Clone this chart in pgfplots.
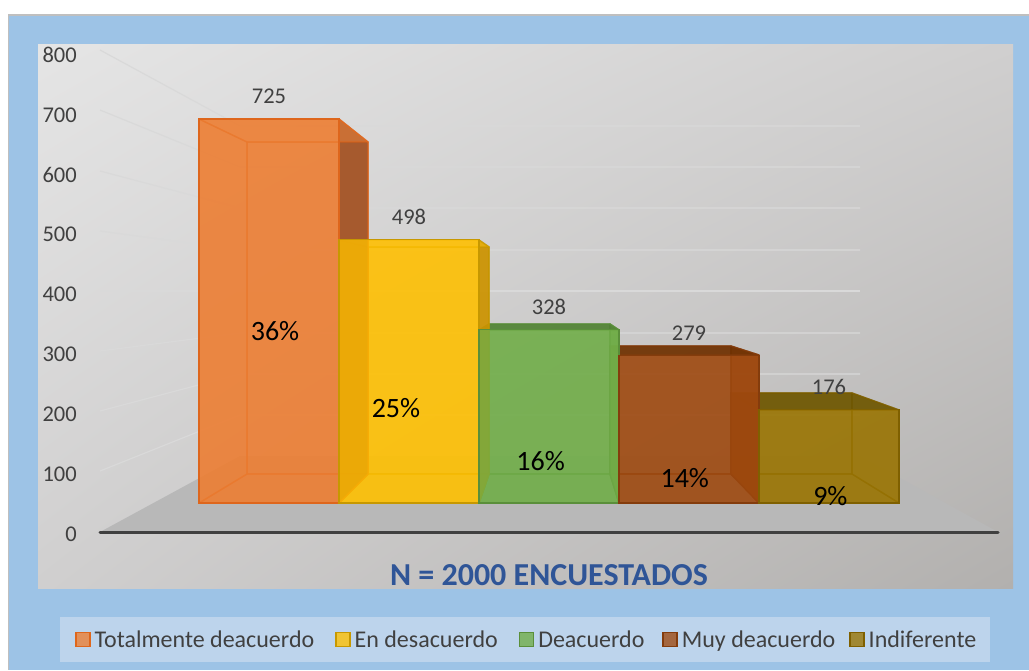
\documentclass[border=0pt]{standalone}
\usepackage{fontspec}
\setmainfont{Carlito}
\usepackage{pgfplots}
\pgfplotsset{compat=1.18}
\usetikzlibrary{shadings}
\definecolor{lab}{HTML}{404040}
\definecolor{gridc}{HTML}{D9D9D9}
\definecolor{frameb}{HTML}{9DC3E6}
\definecolor{legb}{HTML}{BDD4EC}
\definecolor{floorc}{HTML}{B8B8B8}
\definecolor{titlec}{HTML}{2F5597}
\definecolor{wallA}{HTML}{E5E5E5}\definecolor{wallB}{HTML}{D0CFCF}\definecolor{wallC}{HTML}{B2B0AE}
\definecolor{orangeB}{HTML}{ED7D31}\definecolor{orangeE}{HTML}{DE661C}\definecolor{orangeS}{HTML}{9C4D20}
\definecolor{yellowB}{HTML}{FFC000}\definecolor{yellowE}{HTML}{C79800}\definecolor{yellowS}{HTML}{C88F00}
\definecolor{greenB}{HTML}{70AD47}\definecolor{greenE}{HTML}{5A8F3A}\definecolor{greenS}{HTML}{4F7F33}
\definecolor{brownB}{HTML}{9E480E}\definecolor{brownE}{HTML}{843C0C}\definecolor{brownS}{HTML}{6B2F00}
\definecolor{oliveB}{HTML}{997300}\definecolor{oliveE}{HTML}{7F6000}\definecolor{oliveS}{HTML}{6B5400}
\tikzset{
  face/.style n args={2}{fill=#1, draw=#2, fill opacity=0.5, draw opacity=0.6, line width=1.4pt, line join=round, mark=none},
  dark/.style n args={2}{fill=#1, draw=#2, fill opacity=0.85, draw opacity=0.8, line width=1.4pt, line join=round, mark=none},
  grd/.style={color=gridc, line width=1.2pt, mark=none},
}
\begin{document}
\begin{tikzpicture}
% layer 1: frame, wall, floor, gridlines, box faces behind the fronts (pixel coords)
\begin{axis}[
    at={(0,0)}, anchor=south west,
    width=1029pt, height=670pt, scale only axis,
    xmin=0, xmax=1029, ymin=0, ymax=670, y dir=reverse,
    hide axis, clip=false,
]
\addplot[fill=white, draw=none, mark=none] coordinates {(0,0) (1029,0) (1029,670) (0,670)} -- cycle;
\addplot[fill=black!25, draw=none, mark=none] coordinates {(8,14) (1029,14) (1029,670) (8,670)} -- cycle;
\addplot[fill=frameb, draw=none, mark=none] coordinates {(9,15.5) (1029,15.5) (1029,670) (9,670)} -- cycle;
\path[upper left=wallA, upper right=wallB, lower left=wallB, lower right=wallC]
      (axis cs:38,44) rectangle (axis cs:1013,588);
% floor
\addplot[fill=floorc, draw=none, mark=none] coordinates {(100,532) (240,456) (860,456) (998,532)} -- cycle;
% left wall and back wall gridlines
\addplot[grd] coordinates {(100,50) (240,126) (860,126)};
\addplot[grd] coordinates {(100,110) (240,167) (860,167)};
\addplot[grd] coordinates {(100,171) (240,208) (860,208)};
\addplot[grd] coordinates {(100,231) (240,250) (860,250)};
\addplot[grd] coordinates {(100,291) (240,291) (860,291)};
\addplot[grd] coordinates {(100,351) (240,333) (860,333)};
\addplot[grd] coordinates {(100,411) (240,374) (860,374)};
\addplot[grd] coordinates {(100,471) (240,415) (860,415)};
\addplot[color=lab, line width=3pt, line cap=round, mark=none] coordinates {(100,532) (998,532)};
% Indiferente
\addplot[face={oliveB}{oliveE}] coordinates {(731,393) (852,393) (852,474) (731,474)} -- cycle;
\addplot[face={oliveB}{oliveE}] coordinates {(759,503) (899,503) (852,474) (731,474)} -- cycle;
\addplot[dark={oliveS}{oliveE}] coordinates {(759,410) (731,393) (731,474) (759,503)} -- cycle;
\addplot[face={oliveB}{oliveE}] coordinates {(899,410) (852,393) (852,474) (899,503)} -- cycle;
\addplot[dark={oliveS}{oliveE}] coordinates {(759,410) (899,410) (852,393) (731,393)} -- cycle;
% Muy deacuerdo
\addplot[face={brownB}{brownE}] coordinates {(610,346) (731,346) (731,474) (610,474)} -- cycle;
\addplot[face={brownB}{brownE}] coordinates {(619,503) (759,503) (731,474) (610,474)} -- cycle;
\addplot[face={brownB}{brownE}] coordinates {(619,355) (610,346) (610,474) (619,503)} -- cycle;
\addplot[dark={brownB}{brownE}] coordinates {(759,355) (731,346) (731,474) (759,503)} -- cycle;
\addplot[dark={brownS}{brownE}] coordinates {(619,355) (759,355) (731,346) (610,346)} -- cycle;
% Deacuerdo
\addplot[face={greenB}{greenE}] coordinates {(489,324) (610,324) (610,474) (489,474)} -- cycle;
\addplot[face={greenB}{greenE}] coordinates {(479,503) (619,503) (610,474) (489,474)} -- cycle;
\addplot[face={greenB}{greenE}] coordinates {(479,330) (489,324) (489,474) (479,503)} -- cycle;
\addplot[dark={greenB}{greenE}] coordinates {(619,330) (610,324) (610,474) (619,503)} -- cycle;
\addplot[dark={greenS}{greenE}] coordinates {(479,330) (619,330) (610,324) (489,324)} -- cycle;
% En desacuerdo
\addplot[face={yellowB}{yellowE}] coordinates {(368,247) (489,247) (489,474) (368,474)} -- cycle;
\addplot[face={yellowB}{yellowE}] coordinates {(339,503) (479,503) (489,474) (368,474)} -- cycle;
\addplot[dark={yellowB}{yellowE}] coordinates {(339,240) (368,247) (368,474) (339,503)} -- cycle;
\addplot[dark={yellowS}{yellowE}] coordinates {(479,240) (489,247) (489,474) (479,503)} -- cycle;
\addplot[face={yellowB}{yellowE}] coordinates {(339,240) (479,240) (489,247) (368,247)} -- cycle;
% Totalmente deacuerdo
\addplot[face={orangeB}{orangeE}] coordinates {(247,142) (368,142) (368,474) (247,474)} -- cycle;
\addplot[face={orangeB}{orangeE}] coordinates {(199,503) (339,503) (368,474) (247,474)} -- cycle;
\addplot[face={orangeB}{orangeE}] coordinates {(199,119) (247,142) (247,474) (199,503)} -- cycle;
\addplot[dark={orangeS}{orangeE}] coordinates {(339,119) (368,142) (368,474) (339,503)} -- cycle;
\addplot[face={orangeB}{orangeE}] coordinates {(199,119) (339,119) (368,142) (247,142)} -- cycle;
% legend panel and caption
\addplot[fill=legb, draw=none, mark=none] coordinates {(60,617) (990,617) (990,662) (60,662)} -- cycle;
\node[font=\fontsize{32}{36}\selectfont\bfseries, text=titlec, anchor=base] at (axis cs:549,585) {N = 2000 ENCUESTADOS};
\end{axis}
% layer 2: value axis
\begin{axis}[
    at={(83pt,0)}, anchor=south west,
    width=946pt, height=670pt, scale only axis,
    xmin=0, xmax=1, ymin=-228.8, ymax=890.2,
    axis x line=none, axis y line=left,
    y axis line style={draw=none},
    ytick={0,100,...,800}, major tick length=0pt,
    yticklabel style={font=\fontsize{22.5}{26}\selectfont, color=lab, anchor=east, inner sep=0pt, xshift=-6pt, yshift=-1pt},
    /pgf/number format/assume math mode=true,
]
\addplot[draw=none, mark=none] coordinates {(0,0) (1,800)};
\end{axis}
% layer 3: front faces of the bars, value scale
\begin{axis}[
    at={(0,0)}, anchor=south west,
    width=1029pt, height=670pt, scale only axis,
    xmin=-1.9214, xmax=5.4286, ymin=-315.3, ymax=949.6,
    hide axis, clip=false,
    /pgf/number format/assume math mode=true,
    ybar, bar shift=0pt, bar width=1,
    nodes near coords,
    every node near coord/.append style={font=\fontsize{22.5}{26}\selectfont, color=lab, text opacity=1, fill opacity=1, yshift=11pt},
    legend columns=5,
    legend style={
        at={(rel axis cs:0.0583,0.0194)}, anchor=south west,
        fill=none, draw=none, inner xsep=15pt, inner ysep=6pt,
        font=\fontsize{24}{28}\selectfont, text=lab,
        /tikz/column 1/.style={column sep=2pt},
        /tikz/column 3/.style={column sep=2pt},
        /tikz/column 5/.style={column sep=2pt},
        /tikz/column 7/.style={column sep=2pt},
        /tikz/column 9/.style={column sep=2pt},
        /tikz/column 2/.style={column sep=19pt},
        /tikz/column 4/.style={column sep=19pt},
        /tikz/column 6/.style={column sep=16pt},
        /tikz/column 8/.style={column sep=12pt},
    },
    legend image code/.code={\draw[#1, line width=1.4pt] (0pt,-7pt) rectangle (14pt,7pt);},
]
\addplot[fill=orangeB, draw=orangeE, fill opacity=0.78, line width=1.4pt] coordinates {(0,725)};
\addlegendentry{Totalmente deacuerdo}
\addplot[fill=yellowB, draw=yellowE, fill opacity=0.78, line width=1.4pt] coordinates {(1,498)};
\addlegendentry{En desacuerdo}
\addplot[fill=greenB, draw=greenE, fill opacity=0.78, line width=1.4pt] coordinates {(2,328)};
\addlegendentry{Deacuerdo}
\addplot[fill=brownB, draw=brownE, fill opacity=0.78, line width=1.4pt] coordinates {(3,279)};
\addlegendentry{Muy deacuerdo}
\addplot[fill=oliveB, draw=oliveE, fill opacity=0.78, line width=1.4pt] coordinates {(4,176)};
\addlegendentry{Indiferente}
% percentage labels inside the bars
\node[font=\fontsize{28}{32}\selectfont, text=black] at (axis cs:0.043,325) {36\%};
\node[font=\fontsize{28}{32}\selectfont, text=black] at (axis cs:0.907,180) {25\%};
\node[font=\fontsize{28}{32}\selectfont, text=black] at (axis cs:1.94,79) {16\%};
\node[font=\fontsize{28}{32}\selectfont, text=black] at (axis cs:2.97,47) {14\%};
\node[font=\fontsize{28}{32}\selectfont, text=black] at (axis cs:4.01,13) {9\%};
\end{axis}
\end{tikzpicture}
\end{document}
